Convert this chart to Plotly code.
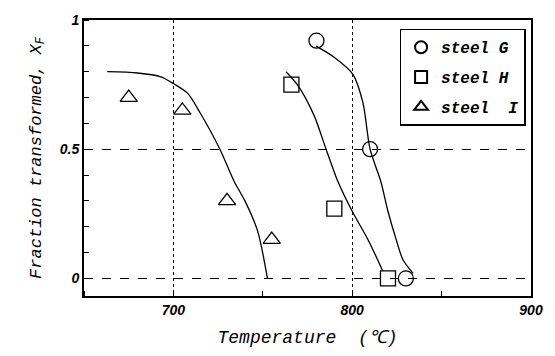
import plotly.graph_objects as go

# Measured points
g_temp = [780, 810, 830]
g_frac = [0.92, 0.50, 0.00]
h_temp = [766, 790, 820]
h_frac = [0.75, 0.27, 0.00]
i_temp = [675, 705, 730, 755]
i_frac = [0.70, 0.65, 0.30, 0.15]

# Fitted curves
g_curve_x = [779.8, 789.9, 800.4, 806, 810, 816, 820, 824.7, 828.4, 834]
g_curve_y = [0.899, 0.856, 0.79, 0.68, 0.5, 0.375, 0.26, 0.148, 0.072, 0.02]
h_curve_x = [763, 769.7, 778.7, 785.4, 792, 800, 809, 817]
h_curve_y = [0.80, 0.746, 0.63, 0.5, 0.375, 0.26, 0.148, 0.03]
i_curve_x = [663, 680, 693, 700, 708, 715, 726, 734, 740, 747, 752.6]
i_curve_y = [0.80, 0.795, 0.78, 0.754, 0.716, 0.64, 0.5, 0.375, 0.30, 0.186, 0.0]

x_ticks = [700, 800, 900]
y_ticks = [0, 0.5, 1]
y_tick_text = ["0", "0.5", "1"]

mono = "Liberation Mono"
sans = "Liberation Sans"

fig = go.Figure()
for cx, cy in [(g_curve_x, g_curve_y), (h_curve_x, h_curve_y), (i_curve_x, i_curve_y)]:
    fig.add_trace(go.Scatter(x=cx, y=cy, mode="lines", line=dict(color="black", width=1.3, shape="spline", smoothing=0.8),
                             showlegend=False, hoverinfo="skip"))

for name, xs, ys, sym in [("steel G", g_temp, g_frac, "circle-open"),
                          ("steel H", h_temp, h_frac, "square-open"),
                          ("steel  I", i_temp, i_frac, "triangle-up-open")]:
    fig.add_trace(go.Scatter(x=xs, y=ys, mode="markers", name=name, legendgroup=name,
                             marker=dict(symbol=sym, size=15, color="black", line=dict(width=1.3, color="black"))))

fig.update_layout(
    width=555, height=356,
    margin=dict(l=84, r=22, t=16, b=59),
    paper_bgcolor="white", plot_bgcolor="white",
    showlegend=True,
    legend=dict(x=0.706, y=0.968, xanchor="left", yanchor="top",
                bordercolor="black", borderwidth=1.5, bgcolor="white",
                font=dict(family=mono, size=16, color="black", style="italic", weight="bold"),
                itemsizing="constant", tracegroupgap=6),
)
fig.update_xaxes(range=[650, 900], tickvals=x_ticks, ticks="", showline=True, mirror=True,
                 linecolor="black", linewidth=2,
                 showgrid=True, gridcolor="black", griddash="dot", gridwidth=1,
                 zeroline=False,
                 minor=dict(dtick=50, tick0=650, ticks="inside", ticklen=5, tickcolor="black", showgrid=False),
                 tickfont=dict(family=sans, size=14, color="black", style="italic", weight="bold"),
                 title=dict(text="Temperature  (℃)", standoff=14,
                            font=dict(family=mono, size=18, color="black", style="italic")))
fig.update_yaxes(range=[-0.068, 1.0], tickvals=y_ticks, ticktext=y_tick_text, ticks="", showline=True, mirror=True,
                 linecolor="black", linewidth=2,
                 showgrid=True, gridcolor="black", griddash="dash", gridwidth=1,
                 zeroline=False,
                 minor=dict(dtick=0.1, tick0=0, ticks="inside", ticklen=5, tickcolor="black", showgrid=False),
                 tickfont=dict(family=sans, size=14, color="black", style="italic", weight="bold"),
                 title=dict(text="Fraction transformed, X<sub>F</sub>", standoff=14,
                            font=dict(family=mono, size=17, color="black", style="italic")))

fig.write_html("out.html")
